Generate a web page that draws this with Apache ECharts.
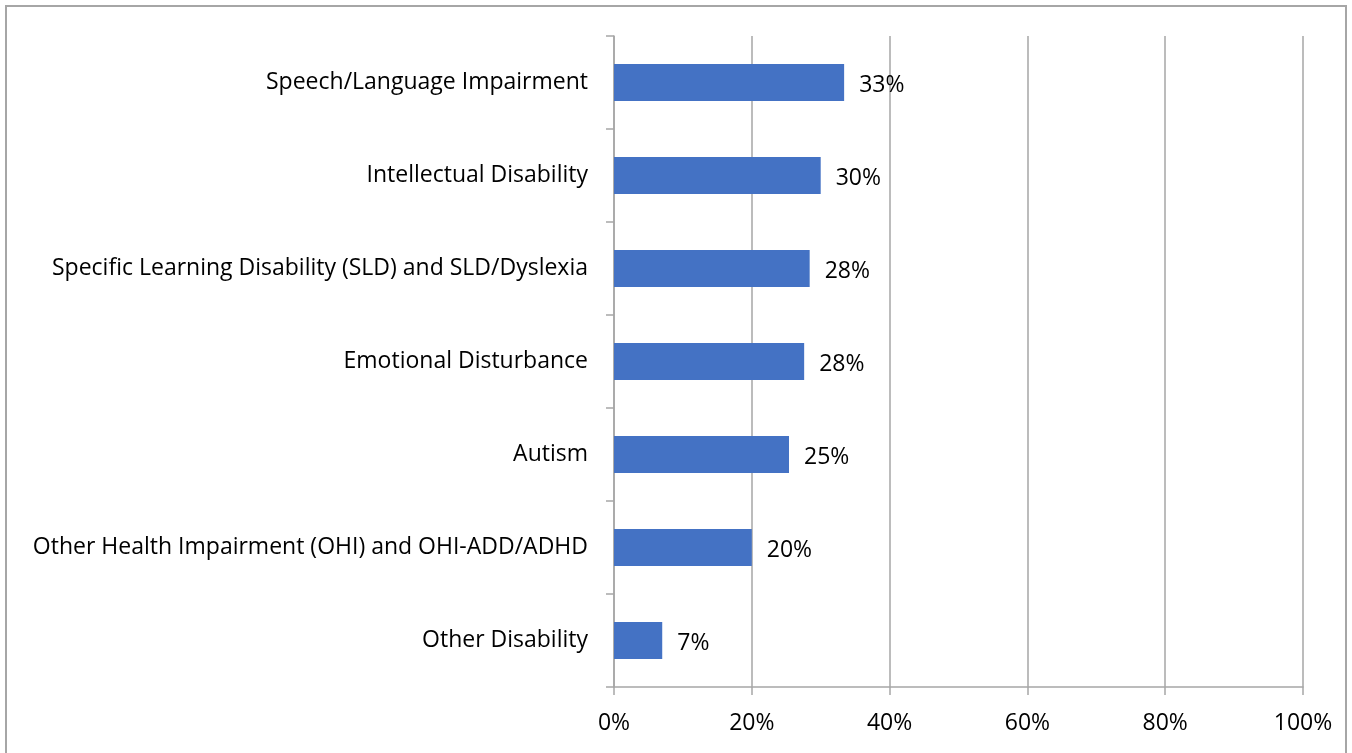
<!DOCTYPE html>
<html><head><meta charset="utf-8">
<script src="https://cdn.jsdelivr.net/npm/echarts@6/dist/echarts.min.js"></script>
<style>html,body{margin:0;padding:0;background:#fff}#c{width:1352px;height:753px}</style>
</head><body><div id="c"></div>
<script>
const categories = [
  "Other Disability",
  "Other Health Impairment (OHI) and OHI-ADD/ADHD",
  "Autism",
  "Emotional Disturbance",
  "Specific Learning Disability (SLD) and SLD/Dyslexia",
  "Intellectual Disability",
  "Speech/Language Impairment"
];
const values = [7.0, 20.0, 25.4, 27.6, 28.4, 30.0, 33.4];
const xTicks = [0, 20, 40, 60, 80, 100];

const chart = echarts.init(document.getElementById('c'));
const gray = '#a6a6a6';
const font = '"Open Sans", sans-serif';
chart.setOption({
  animation: false,
  graphic: [{type:'rect', shape:{x:6, y:6, width:1340, height:770}, style:{fill:'none', stroke:gray, lineWidth:2}}],
  grid: {left: 614, right: 49, top: 36, bottom: 66, containLabel: false},
  xAxis: {
    type: 'value', min: 0, max: 100, interval: 20,
    axisLine: {show: true, lineStyle: {color: gray, width: 1.5}},
    axisTick: {show: true, length: 8, lineStyle: {color: gray, width: 1.5}},
    splitLine: {show: true, lineStyle: {color: gray, width: 1.5}},
    axisLabel: {color: '#000', fontSize: 23, fontFamily: font, margin: 25,
      formatter: v => xTicks.includes(v) ? v + '%' : ''}
  },
  yAxis: {
    type: 'category', data: categories,
    axisLine: {show: true, lineStyle: {color: gray, width: 1.5}},
    axisTick: {show: true, length: 8, inside: false, lineStyle: {color: gray, width: 1.5}},
    axisLabel: {color: '#000', fontSize: 23, fontFamily: font, margin: 26, padding: [5, 0, 0, 0]}
  },
  series: [{
    type: 'bar', data: values, barCategoryGap: '60%',
    itemStyle: {color: '#4472c4'},
    label: {show: true, position: 'right', distance: 15, color: '#000', fontSize: 23, fontFamily: font,
      offset: [0, 3],
      formatter: p => Math.round(p.value) + '%'}
  }]
});
</script></body></html>
